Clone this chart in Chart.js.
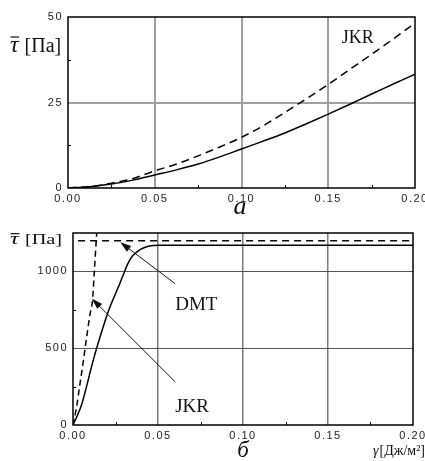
<!DOCTYPE html>
<html>
<head>
<meta charset="utf-8">
<script src="https://cdn.jsdelivr.net/npm/chart.js@4.4.1/dist/chart.umd.min.js"></script>
<style>
  html, body { margin: 0; padding: 0; background: #fff; }
  #wrap { position: relative; width: 425px; height: 461px; }
  canvas { position: absolute; left: 0; }
  #chartA { top: 0; }
  #chartB { top: 215px; }
</style>
</head>
<body>
<div id="wrap">
  <canvas id="chartA" width="425" height="215"></canvas>
  <canvas id="chartB" width="425" height="246"></canvas>
</div>
<script>
// panel "а" — shear stress vs surface energy, small loads
const gammaA = [0, 0.0125, 0.025, 0.0375, 0.05, 0.0625, 0.075, 0.0875, 0.1, 0.1125, 0.125, 0.1375, 0.15, 0.1625, 0.175, 0.1875, 0.2];
const tauSolidA = [0, 0.4, 1.2, 2.3, 3.8, 5.3, 7.0, 9.1, 11.4, 13.7, 16.1, 18.8, 21.6, 24.5, 27.5, 30.4, 33.3];
const tauJkrA = [0, 0.4, 1.4, 2.8, 5.0, 7.0, 9.4, 12.0, 14.8, 18.2, 22.1, 26.1, 30.3, 34.7, 39.1, 43.6, 48.2];

// panel "б"
const gammaSolidB = [0, 0.0025, 0.005, 0.0075, 0.01, 0.0125, 0.015, 0.0175, 0.02, 0.0225, 0.025, 0.0275, 0.03, 0.0325, 0.035, 0.0375, 0.04, 0.0425, 0.045, 0.0475, 0.05, 0.2];
const tauSolidB = [0, 60, 130, 230, 340, 445, 540, 630, 715, 790, 855, 920, 990, 1055, 1100, 1125, 1145, 1157, 1165, 1169, 1171, 1171];
const gammaJkrB = [0, 0.002, 0.004, 0.006, 0.008, 0.01, 0.0115, 0.0125, 0.0135, 0.0145];
const tauJkrB = [0, 110, 260, 410, 570, 720, 815, 990, 1170, 1350];
const gammaDmtB = [0.003, 0.2];
const tauDmtB = [1200, 1200];

const xTicks = [0, 0.05, 0.1, 0.15, 0.2];
const xMinor = [0.025, 0.075, 0.125, 0.175];
const yTicksA = [0, 25, 50];
const yMinorA = [12.5, 37.5];
const yTicksB = [0, 500, 1000];
const yMinorB = [250, 750];

const SERIF = "'Liberation Serif', 'Times New Roman', serif";
const SANS = "'Liberation Sans', Arial, sans-serif";

function pts(xs, ys) {
  return xs.map((x, i) => ({ x, y: ys[i] }));
}

function curve(xs, ys, dashed, dash) {
  return {
    data: pts(xs, ys),
    borderColor: '#000',
    borderWidth: 1.5,
    borderDash: dashed ? dash : [],
    pointRadius: 0,
    cubicInterpolationMode: 'monotone',
    fill: false,
  };
}

function arrow(ctx, x1, y1, x2, y2) {
  const a = Math.atan2(y2 - y1, x2 - x1);
  const len = 11, half = 3.5;
  ctx.beginPath();
  ctx.moveTo(x1, y1);
  ctx.lineTo(x2 - Math.cos(a) * len * 0.8, y2 - Math.sin(a) * len * 0.8);
  ctx.stroke();
  ctx.beginPath();
  ctx.moveTo(x2, y2);
  ctx.lineTo(x2 - Math.cos(a) * len - Math.sin(a) * half, y2 - Math.sin(a) * len + Math.cos(a) * half);
  ctx.lineTo(x2 - Math.cos(a) * len + Math.sin(a) * half, y2 - Math.sin(a) * len - Math.cos(a) * half);
  ctx.closePath();
  ctx.fill();
}

// Builds one panel; box is the plot area in canvas pixels.
function makePanel(canvas, { datasets, yMax, yTicks, yMinor, box, vGrid, hGrid, drawText }) {
  const W = canvas.width, H = canvas.height;
  const interior = (c, max) => c.tick && c.tick.value > 0 && c.tick.value < max;

  const decor = {
    id: 'decor',
    beforeDraw(chart) {
      chart.ctx.letterSpacing = '1.5px';
    },
    afterDraw(chart) {
      const { ctx, chartArea: a, scales } = chart;
      ctx.save();
      ctx.letterSpacing = '0px';
      ctx.strokeStyle = '#000';
      ctx.fillStyle = '#000';
      ctx.lineWidth = 1.5;
      ctx.setLineDash([]);
      ctx.strokeRect(a.left, a.top, a.right - a.left, a.bottom - a.top);
      ctx.lineWidth = 1;
      ctx.beginPath();
      xMinor.forEach((v) => {
        const x = Math.round(scales.x.getPixelForValue(v)) + 0.5;
        ctx.moveTo(x, a.bottom);
        ctx.lineTo(x, a.bottom - 3);
      });
      yMinor.forEach((v) => {
        const y = Math.round(scales.y.getPixelForValue(v)) + 0.5;
        ctx.moveTo(a.left, y);
        ctx.lineTo(a.left + 3, y);
      });
      ctx.stroke();
      drawText(ctx, (v) => scales.x.getPixelForValue(v), (v) => scales.y.getPixelForValue(v));
      ctx.restore();
    },
  };

  return new Chart(canvas, {
    type: 'line',
    data: { datasets },
    options: {
      responsive: false,
      animation: false,
      devicePixelRatio: 1,
      layout: { padding: { left: 0, top: box.top, right: W - box.right, bottom: 0 } },
      plugins: { legend: { display: false }, tooltip: { enabled: false } },
      scales: {
        x: {
          type: 'linear',
          min: 0,
          max: 0.2,
          afterBuildTicks: (s) => { s.ticks = xTicks.map((v) => ({ value: v })); },
          afterFit: (s) => { s.height = H - box.bottom; s.paddingLeft = 0; s.paddingRight = 0; },
          ticks: {
            callback: (v) => v.toFixed(2),
            color: '#222',
            font: { family: SANS, size: 11 },
            padding: 4,
            maxRotation: 0,
            autoSkip: false,
          },
          grid: {
            drawTicks: false,
            color: (c) => (interior(c, 0.2) ? vGrid.color : 'rgba(0,0,0,0)'),
            lineWidth: vGrid.width,
          },
          border: { display: false },
        },
        y: {
          type: 'linear',
          min: 0,
          max: yMax,
          afterBuildTicks: (s) => { s.ticks = yTicks.map((v) => ({ value: v })); },
          afterFit: (s) => { s.width = box.left; s.paddingTop = 0; s.paddingBottom = 0; },
          ticks: {
            callback: (v) => String(v),
            color: '#222',
            font: { family: SANS, size: 11 },
            padding: 5,
            autoSkip: false,
          },
          grid: {
            drawTicks: false,
            color: (c) => (interior(c, yMax) ? hGrid.color : 'rgba(0,0,0,0)'),
            lineWidth: hGrid.width,
          },
          border: { display: false },
        },
      },
    },
    plugins: [decor],
  });
}

function tauLabel(ctx, x, baseline, size, sx) {
  ctx.save();
  ctx.translate(x, baseline);
  ctx.scale(sx, 1);
  ctx.textAlign = 'left';
  ctx.textBaseline = 'alphabetic';
  ctx.font = `italic ${Math.round(size * 1.2)}px ${SERIF}`;
  ctx.fillText('τ', 0, 0);
  const tw = ctx.measureText('τ').width;
  ctx.fillRect(0.5, -size * 0.78, tw, 1.2);
  ctx.font = `${size}px ${SERIF}`;
  ctx.fillText('[Па]', tw + size * 0.3, 0);
  ctx.restore();
}

makePanel(document.getElementById('chartA'), {
  datasets: [curve(gammaA, tauSolidA, false), curve(gammaA, tauJkrA, true, [8, 5])],
  yMax: 50,
  yTicks: yTicksA,
  yMinor: yMinorA,
  box: { left: 68, right: 415, top: 17, bottom: 188 },
  vGrid: { color: '#a0a0a0', width: 2 },
  hGrid: { color: '#a0a0a0', width: 2 },
  drawText(ctx, px, py) {
    ctx.fillStyle = '#111';
    tauLabel(ctx, 10, 52, 20, 1);
    ctx.font = `18px ${SERIF}`;
    ctx.textAlign = 'left';
    ctx.textBaseline = 'alphabetic';
    ctx.fillText('JKR', px(0.1578), py(42.4));
    ctx.font = `italic 26px ${SERIF}`;
    ctx.textAlign = 'center';
    ctx.fillText('а', 240, 214);
  },
});

makePanel(document.getElementById('chartB'), {
  datasets: [
    curve(gammaSolidB, tauSolidB, false),
    curve(gammaJkrB, tauJkrB, true, [6, 4]),
    curve(gammaDmtB, tauDmtB, true, [7, 5]),
  ],
  yMax: 1250,
  yTicks: yTicksB,
  yMinor: yMinorB,
  box: { left: 73, right: 413, top: 18, bottom: 210 },
  vGrid: { color: '#7a7a7a', width: 1.5 },
  hGrid: { color: '#555', width: 1 },
  drawText(ctx, px, py) {
    ctx.fillStyle = '#111';
    ctx.strokeStyle = '#111';
    ctx.lineWidth = 1;
    tauLabel(ctx, 10, 29, 14, 1.45);
    arrow(ctx, px(0.0601), py(920), px(0.0278), py(1190));
    arrow(ctx, px(0.0601), py(281), px(0.0111), py(823));
    ctx.font = `19px ${SERIF}`;
    ctx.textAlign = 'left';
    ctx.textBaseline = 'alphabetic';
    ctx.fillText('DMT', px(0.0601), py(747));
    ctx.fillText('JKR', px(0.0601), py(84));
    ctx.font = `italic 23px ${SERIF}`;
    ctx.textAlign = 'center';
    ctx.fillText('б', 243, 242);
    ctx.textAlign = 'right';
    ctx.font = `14px ${SERIF}`;
    const unit = '[Дж/м²]';
    ctx.fillText(unit, 425, 240);
    const uw = ctx.measureText(unit).width;
    ctx.font = `italic 14px ${SERIF}`;
    ctx.fillText('γ', 425 - uw - 1, 240);
  },
});
</script>
</body>
</html>
